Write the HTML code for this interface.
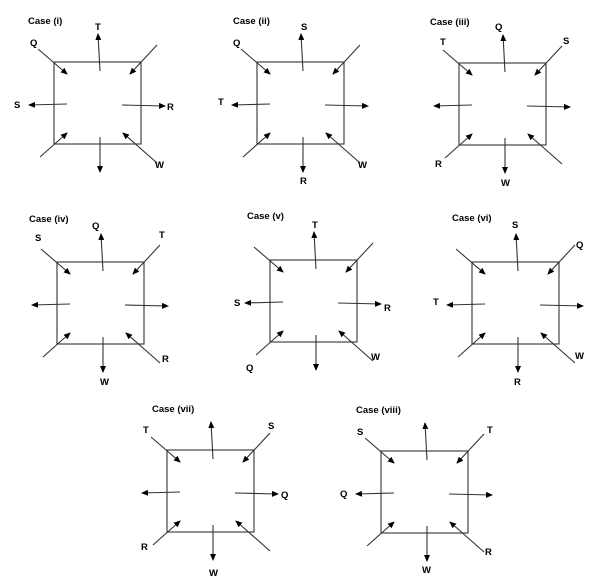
<!DOCTYPE html>
<html><head><meta charset="utf-8"><style>
html,body{margin:0;padding:0;background:#fff;}
svg{display:block;}
text{font-family:"Liberation Sans",sans-serif;font-weight:bold;font-size:9.5px;fill:#000;}
</style></head><body>
<svg width="606" height="585" viewBox="0 0 606 585" xmlns="http://www.w3.org/2000/svg">
<defs>
<marker id="a" markerWidth="8" markerHeight="8" refX="6" refY="3" orient="auto" markerUnits="userSpaceOnUse">
<path d="M0,0 L7,3 L0,6 z" fill="#000"/></marker>
<g id="d" stroke="#333" stroke-width="1.1" fill="none">
<rect x="0" y="0" width="87" height="82"/>
<line x1="-16" y1="-13" x2="13" y2="12" marker-end="url(#a)"/>
<line x1="103" y1="-17" x2="76" y2="12" marker-end="url(#a)"/>
<line x1="-14" y1="95" x2="13" y2="71" marker-end="url(#a)"/>
<line x1="103" y1="101" x2="69" y2="71" marker-end="url(#a)"/>
<line x1="13" y1="42" x2="-25" y2="43" marker-end="url(#a)"/>
<line x1="68" y1="43" x2="111" y2="44" marker-end="url(#a)"/>
<line x1="46" y1="9" x2="44" y2="-28" marker-end="url(#a)"/>
<line x1="46" y1="75" x2="46" y2="110" marker-end="url(#a)"/>
</g>
</defs>

<!-- i -->
<g transform="translate(54,62)"><use href="#d"/>
<text x="-26" y="-38">Case (i)</text>
<text x="-24" y="-16">Q</text><text x="41" y="-32">T</text>
<text x="-40" y="46">S</text><text x="113" y="48">R</text><text x="101" y="106">W</text></g>

<!-- ii -->
<g transform="translate(257,62)"><use href="#d"/>
<text x="-24" y="-38">Case (ii)</text>
<text x="-24" y="-16">Q</text><text x="44" y="-32">S</text>
<text x="-39" y="43">T</text><text x="101" y="106">W</text><text x="43" y="122">R</text></g>

<!-- iii -->
<g transform="translate(459,63)"><use href="#d"/>
<text x="-29" y="-38">Case (iii)</text>
<text x="-19" y="-18">T</text><text x="36" y="-33">Q</text><text x="104" y="-19">S</text>
<text x="-24" y="104">R</text><text x="42" y="123">W</text></g>

<!-- iv -->
<g transform="translate(57,262)"><use href="#d"/>
<text x="-28" y="-40">Case (iv)</text>
<text x="-22" y="-21">S</text><text x="35" y="-33">Q</text><text x="102" y="-24">T</text>
<text x="105" y="100">R</text><text x="43" y="123">W</text></g>

<!-- v -->
<g transform="translate(270,260)"><use href="#d"/>
<text x="-23" y="-41">Case (v)</text>
<text x="42" y="-32">T</text><text x="-36" y="46">S</text><text x="114" y="51">R</text>
<text x="-24" y="111">Q</text><text x="101" y="100">W</text></g>

<!-- vi -->
<g transform="translate(472,262)"><use href="#d"/>
<text x="-20" y="-41">Case (vi)</text>
<text x="40" y="-34">S</text><text x="104" y="-14">Q</text><text x="-39" y="43">T</text>
<text x="103" y="97">W</text><text x="42" y="123">R</text></g>

<!-- vii -->
<g transform="translate(167,450)"><use href="#d"/>
<text x="-15" y="-38">Case (vii)</text>
<text x="-24" y="-17">T</text><text x="101" y="-21">S</text><text x="114" y="48">Q</text>
<text x="-26" y="100">R</text><text x="42" y="126">W</text></g>

<!-- viii -->
<g transform="translate(381,451)"><use href="#d"/>
<text x="-25" y="-38">Case (viii)</text>
<text x="-24" y="-16">S</text><text x="106" y="-18">T</text><text x="-41" y="46">Q</text>
<text x="104" y="104">R</text><text x="41" y="122">W</text></g>
</svg>
</body></html>
